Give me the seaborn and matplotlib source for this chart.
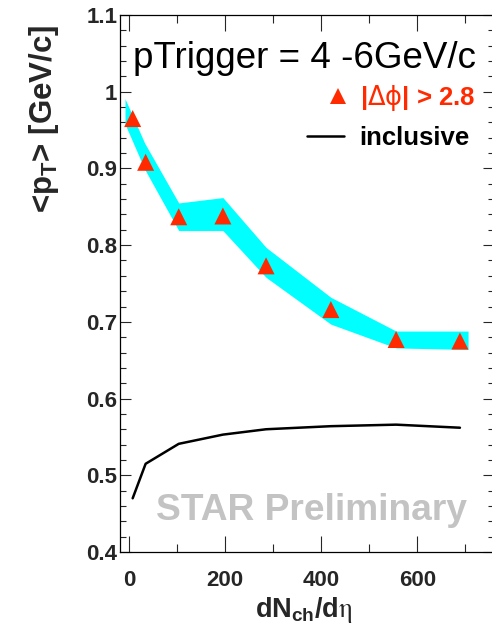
import matplotlib
matplotlib.use("Agg")
import matplotlib.pyplot as plt
from matplotlib.lines import Line2D
from matplotlib.legend_handler import HandlerLine2D
import seaborn as sns
import pandas as pd

# ---- data ----
dn_points = [7, 34, 103, 195, 285, 420, 556, 689]
pt_away = [0.965, 0.908, 0.837, 0.838, 0.773, 0.716, 0.677, 0.675]

band_x = [-9, 32, 103, 195, 285, 420, 556, 706]
band_upper = [0.991, 0.933, 0.855, 0.862, 0.797, 0.732, 0.688, 0.688]
band_lower = [0.958, 0.899, 0.819, 0.819, 0.758, 0.697, 0.666, 0.664]

pt_inclusive = [0.470, 0.515, 0.541, 0.553, 0.560, 0.564, 0.566, 0.562]

x_major = [0, 200, 400, 600]
x_minor = [100, 300, 500, 700]
y_major = [0.4, 0.5, 0.6, 0.7, 0.8, 0.9, 1.0, 1.1]
y_labels = ["0.4", "0.5", "0.6", "0.7", "0.8", "0.9", "1", "1.1"]

RED = "#ff2a00"
CYAN = "#00ffff"

sns.set_theme(style="ticks")
plt.rcParams["font.family"] = ["Liberation Sans", "DejaVu Sans"]
plt.rcParams["mathtext.fontset"] = "custom"
plt.rcParams["mathtext.rm"] = "Liberation Sans"
plt.rcParams["mathtext.bf"] = "Liberation Sans:bold"


class ShiftedMarker(HandlerLine2D):
    def __init__(self, frac, **kw):
        super().__init__(**kw)
        self.frac = frac

    def create_artists(self, legend, orig_handle, xdescent, ydescent, width,
                       height, fontsize, trans):
        arts = super().create_artists(legend, orig_handle, xdescent, ydescent,
                                      width, height, fontsize, trans)
        for a in arts:
            a.set_xdata([-xdescent + self.frac * width])
        return arts


fig = plt.figure(figsize=(4.92, 6.26), dpi=100)
W, H = 492, 626
l, r, t, b = 120, 494, 15, 552
ax = fig.add_axes([l / W, 1 - b / H, (r - l) / W, (b - t) / H])

df_pts = pd.DataFrame({"dn": dn_points, "pt": pt_away, "inc": pt_inclusive})

ax.fill_between(band_x, band_lower, band_upper, color=CYAN, linewidth=0, zorder=1)
sns.lineplot(data=df_pts, x="dn", y="inc", ax=ax, color="black", linewidth=1.8,
             zorder=2, legend=False)
sns.scatterplot(data=df_pts, x="dn", y="pt", ax=ax, marker="^", s=150,
                color=RED, edgecolor="none", linewidth=0, zorder=3, legend=False)

ax.set_xlim(-19.4, 760)
ax.set_ylim(0.4, 1.1)

ax.set_xticks(x_major)
ax.set_xticks(x_minor, minor=True)
ax.set_yticks(y_major)
ax.set_yticks([0.4 + 0.02 * i for i in range(36)], minor=True)
ax.set_yticklabels(y_labels)

for s in ax.spines.values():
    s.set_linewidth(0.9)
    s.set_color("black")

ax.tick_params(axis="x", which="major", direction="in", length=11.5, width=0.8,
               top=True, bottom=True, pad=13, labelsize=16)
ax.tick_params(axis="x", which="minor", direction="in", length=5.8, width=0.8,
               top=True, bottom=True)
ax.tick_params(axis="y", which="major", direction="in", length=8, width=0.8,
               left=True, right=True, pad=2, labelsize=16)
ax.tick_params(axis="y", which="minor", direction="in", length=4.3, width=0.8,
               left=True, right=True)
for lab in ax.get_xticklabels() + ax.get_yticklabels():
    lab.set_fontweight("bold")

ax.set_xlabel(r"dN$\mathregular{_{ch}}$/d$\mathrm{\eta}$", fontsize=19.5,
              fontweight="bold", math_fontfamily="stix")
ax.xaxis.set_label_coords((304 - l) / (r - l), -(617 - b) / (b - t))
ax.xaxis.label.set_va("baseline")

ax.set_ylabel(r"<p$_{\mathbf{T}}$> [GeV/c]", fontsize=22.5, fontweight="bold")
ax.yaxis.label.set_va("center")
ax.yaxis.set_label_coords((44 - l) / (r - l), (b - 119) / (b - t))

ax.text((133 - l) / (r - l), (b - 68) / (b - t), "pTrigger = 4 -6GeV/c",
        transform=ax.transAxes, fontsize=26.5, va="baseline", ha="left", color="black")

ax.text((156 - l) / (r - l), (b - 520) / (b - t), "STAR Preliminary",
        transform=ax.transAxes, fontsize=26.7, fontweight="bold", color="#c3c3c3",
        va="baseline", ha="left", zorder=0)

h_tri = Line2D([], [], marker="^", linestyle="none", markersize=12, color=RED,
               markeredgewidth=0)
h_line = Line2D([], [], color="black", linewidth=1.8)
leg = ax.legend([h_tri, h_line], [r"|$\Delta\mathrm{\phi}$| > 2.8", "inclusive"],
                loc="upper left",
                bbox_to_anchor=((307 - l) / (r - l), (b - 83) / (b - t)),
                frameon=False, borderpad=0, borderaxespad=0,
                handlelength=1.45, handletextpad=0.6, labelspacing=0.5,
                prop={"size": 18.5, "weight": "bold"},
                labelcolor=[RED, "black"],
                handler_map={h_tri: ShiftedMarker(0.82, numpoints=1)})
for txt in leg.get_texts():
    txt.set_math_fontfamily("dejavusans")

fig.savefig("out.png", dpi=100)
